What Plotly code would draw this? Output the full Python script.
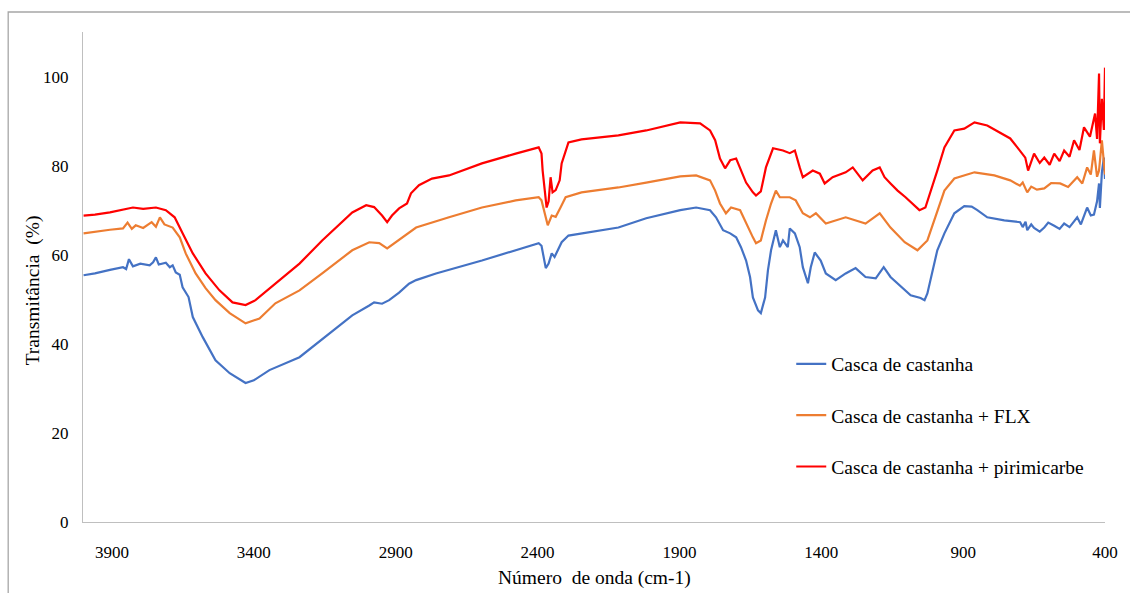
import plotly.graph_objects as go

# FTIR spectra: wavenumber (cm-1) vs transmittance (%)
wn_casca = [4000, 3960, 3907, 3861, 3850, 3840, 3826, 3800, 3767, 3755, 3745, 3735, 3710, 3696,
            3686, 3675, 3661, 3651, 3630, 3615, 3580, 3535, 3485, 3429, 3400, 3345, 3239, 3134,
            3053, 2993, 2976, 2948, 2923, 2888, 2853, 2828, 2758, 2596, 2477, 2396, 2386, 2375,
            2371, 2361, 2350, 2340, 2315, 2291, 2245, 2115, 2017, 1897, 1841, 1792, 1771, 1746,
            1721, 1700, 1683, 1665, 1651, 1641, 1623, 1613, 1598, 1588, 1577, 1560, 1546, 1535,
            1518, 1511, 1493, 1476, 1465, 1447, 1437, 1423, 1402, 1384, 1349, 1314, 1279, 1244,
            1208, 1180, 1156, 1131, 1106, 1085, 1050, 1036, 1026, 1015, 1001, 991, 966, 931, 896,
            870, 850, 815, 755, 699, 690, 680, 674, 660, 650, 630, 614, 600, 579, 560, 544, 525,
            509, 498, 485, 470, 463, 450, 439, 428, 421, 418, 411, 404, 400]
t_casca = [55.4, 55.8, 56.6, 57.2, 56.8, 59.0, 57.4, 58.0, 57.6, 58.3, 59.4, 57.8, 58.2, 57.2,
           57.6, 56.0, 55.5, 52.7, 50.5, 46.0, 41.5, 36.3, 33.4, 31.2, 31.8, 34.1, 37.0, 42.4,
           46.4, 48.6, 49.3, 49.0, 49.8, 51.5, 53.5, 54.3, 55.8, 58.7, 61.0, 62.6, 62.0, 58.5,
           57.0, 58.0, 60.3, 59.5, 62.8, 64.3, 64.8, 66.1, 68.2, 70.0, 70.6, 70.0, 68.4, 65.5,
           64.8, 63.9, 61.7, 58.7, 55.0, 50.4, 47.5, 46.9, 50.4, 56.5, 61.0, 65.5, 61.7, 63.2,
           61.7, 65.9, 64.8, 61.7, 57.2, 53.6, 57.2, 60.5, 58.7, 55.8, 54.3, 55.8, 57.0, 55.0,
           54.7, 57.2, 55.0, 53.6, 52.0, 50.9, 50.3, 49.8, 51.3, 54.3, 58.0, 61.0, 64.8, 69.3, 70.9,
           70.8, 70.0, 68.4, 67.7, 67.3, 66.2, 67.4, 65.5, 66.8, 66.0, 65.2, 66.1, 67.2, 66.5, 65.8,
           67.0, 66.2, 67.5, 68.4, 66.8, 69.5, 70.6, 68.8, 69.0, 72.0, 76.0, 70.5, 78.5, 81.8, 77.0]

wn_flx = [4000, 3960, 3907, 3861, 3845, 3830, 3816, 3790, 3760, 3745, 3731, 3715, 3686, 3661,
          3640, 3605, 3570, 3535, 3485, 3429, 3380, 3324, 3239, 3159, 3053, 2993, 2958, 2930,
          2899, 2853, 2828, 2712, 2596, 2477, 2396, 2386, 2371, 2364, 2350, 2336, 2319, 2301,
          2245, 2115, 2017, 1897, 1841, 1792, 1774, 1757, 1736, 1718, 1686, 1665, 1641, 1630,
          1613, 1595, 1577, 1560, 1546, 1511, 1490, 1465, 1440, 1419, 1384, 1314, 1244, 1194,
          1156, 1106, 1061, 1026, 1001, 966, 931, 860, 790, 734, 700, 690, 674, 660, 640, 614,
          590, 558, 530, 498, 480, 463, 450, 439, 428, 421, 411, 404, 400]
t_flx = [64.8, 65.2, 65.6, 65.9, 67.2, 65.8, 66.6, 66.0, 67.3, 66.3, 68.4, 66.8, 66.1, 63.9,
         60.3, 55.8, 52.5, 49.8, 46.9, 44.6, 45.7, 49.1, 52.0, 55.8, 61.0, 62.8, 62.6, 61.4,
         62.8, 64.8, 66.1, 68.4, 70.6, 72.2, 72.9, 72.2, 68.2, 66.6, 68.8, 68.5, 70.6, 72.9,
         74.0, 75.1, 76.2, 77.6, 77.8, 76.7, 74.4, 71.5, 69.3, 70.6, 70.0, 67.0, 63.9, 62.6,
         63.2, 67.7, 71.5, 74.4, 72.9, 72.9, 72.2, 69.3, 68.4, 69.3, 67.0, 68.4, 67.0, 69.3,
         66.1, 62.8, 61.0, 63.2, 67.7, 74.4, 77.1, 78.5, 77.8, 76.7, 75.5, 76.2, 74.0, 75.3, 74.6,
         74.9, 76.1, 76.0, 75.2, 77.4, 76.0, 79.6, 78.0, 83.4, 77.5, 78.9, 85.7, 80.5, 78.0]

wn_piri = [4000, 3960, 3907, 3870, 3826, 3790, 3745, 3710, 3679, 3651, 3615, 3570, 3521, 3475,
           3429, 3394, 3324, 3239, 3159, 3053, 3004, 2976, 2948, 2930, 2913, 2888, 2860, 2846,
           2818, 2772, 2712, 2596, 2477, 2396, 2386, 2382, 2368, 2361, 2354, 2347, 2336, 2322,
           2315, 2291, 2245, 2115, 2017, 1897, 1827, 1792, 1774, 1757, 1739, 1721, 1700, 1683,
           1665, 1641, 1630, 1613, 1595, 1570, 1535, 1511, 1493, 1476, 1465, 1430, 1405, 1388,
           1360, 1314, 1289, 1254, 1219, 1194, 1177, 1156, 1131, 1103, 1071, 1054, 1033, 1015,
           991, 966, 931, 896, 860, 815, 769, 734, 709, 681, 671, 650, 630, 614, 595, 579, 560,
           544, 525, 509, 490, 474, 453, 440, 435, 428, 421, 418, 411, 404, 400]
t_piri = [68.8, 69.0, 69.5, 70.0, 70.6, 70.3, 70.6, 70.0, 68.4, 64.8, 60.3, 55.8, 52.0, 49.3,
          48.7, 49.8, 53.6, 58.0, 63.2, 69.5, 71.1, 70.7, 68.8, 67.3, 68.8, 70.4, 71.5, 73.8,
          75.6, 77.1, 77.8, 80.5, 82.7, 84.1, 82.7, 78.9, 70.6, 72.0, 77.4, 74.0, 74.5, 76.7,
          80.5, 85.2, 85.9, 86.8, 87.9, 89.7, 89.5, 87.9, 85.7, 81.6, 79.4, 81.2, 81.6, 78.9,
          76.2, 74.0, 73.3, 74.2, 79.6, 83.9, 83.4, 82.8, 83.4, 79.6, 77.4, 78.9, 78.2, 76.0,
          77.4, 78.5, 79.6, 76.7, 78.9, 79.6, 77.4, 76.0, 74.4, 72.9, 71.1, 70.0, 70.6, 74.4,
          78.9, 84.1, 87.9, 88.3, 89.7, 89.0, 87.4, 86.1, 84.1, 81.8, 78.9, 82.7, 80.6, 81.8,
          80.2, 82.7, 81.0, 83.4, 82.0, 85.7, 83.5, 88.6, 86.5, 90.5, 91.7, 86.0, 100.7, 85.0,
          95.0, 88.0, 102.0]

series = [
    ("Casca de castanha", wn_casca, t_casca, "#4472C4"),
    ("Casca de castanha + FLX", wn_flx, t_flx, "#ED7D31"),
    ("Casca de castanha + pirimicarbe", wn_piri, t_piri, "#FF0000"),
]

x_ticks = [3900, 3400, 2900, 2400, 1900, 1400, 900, 400]
y_ticks = [0, 20, 40, 60, 80, 100]

FONT = "Liberation Serif"

fig = go.Figure()
for i, (name, x, y, color) in enumerate(series):
    fig.add_trace(go.Scatter(
        x=x, y=y, mode="lines", name=name, legendgroup=f"g{i}",
        line=dict(color=color, width=2.2),
    ))

fig.update_layout(
    width=1130, height=593,
    margin=dict(l=83, r=22, t=32, b=71),
    paper_bgcolor="white", plot_bgcolor="white",
    font=dict(family=FONT, color="#000000", size=17),
    showlegend=True,
    legend=dict(
        x=0.693, y=0.362, xanchor="left", yanchor="top",
        bgcolor="rgba(0,0,0,0)", borderwidth=0,
        font=dict(family=FONT, size=19.5, color="#000000"),
        tracegroupgap=23, traceorder="grouped",
    ),
    xaxis=dict(
        range=[4002, 400], tickvals=x_ticks, ticktext=[str(v) for v in x_ticks],
        showgrid=False, zeroline=False, showline=True, linecolor="#BFBFBF", linewidth=1.3,
        ticks="outside", ticklen=14, tickcolor="rgba(0,0,0,0)",
        tickfont=dict(family=FONT, size=17, color="#000000"),
    ),
    yaxis=dict(
        range=[0, 110], tickvals=y_ticks,
        showgrid=False, zeroline=False, showline=True, linecolor="#BFBFBF", linewidth=1.3,
        ticks="outside", ticklen=10, tickcolor="rgba(0,0,0,0)",
        tickfont=dict(family=FONT, size=17, color="#000000"),
    ),
    annotations=[
        dict(text="Número  de onda (cm-1)", xref="paper", yref="paper", x=0.5, y=-0.114,
             xanchor="center", yanchor="middle", showarrow=False,
             font=dict(family=FONT, size=19.5, color="#000000")),
        dict(text="Transmitância  (%)", xref="paper", yref="paper", x=-0.0488, y=0.473,
             xanchor="center", yanchor="middle", textangle=-90, showarrow=False,
             font=dict(family=FONT, size=19.5, color="#000000")),
    ],
    shapes=[
        dict(type="rect", xref="paper", yref="paper", x0=-0.0732, x1=1.03, y0=-0.2, y1=1.0408,
             line=dict(color="#A6A6A6", width=1.3), fillcolor="rgba(0,0,0,0)", layer="below"),
    ],
)

fig.write_html("out.html")
